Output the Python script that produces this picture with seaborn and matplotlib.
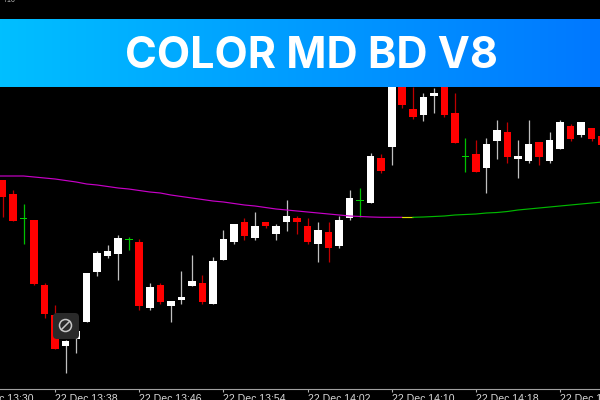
import numpy as np
import pandas as pd
import matplotlib
matplotlib.use('Agg')
import matplotlib.pyplot as plt
from matplotlib.patches import FancyBboxPatch, Circle
import seaborn as sns

body_top = [180, 194, 217.5, 220, 285, 315, 341, 331, 273, 253, 251, 238, 238.5, 242, 287, 285, 301, 297, 281,
            283, 261, 239, 224, 222, 226, 222, 226, 216, 218, 226, 230, 232, 220, 198, 199.5, 156, 158, 70, 70,
            109, 97, 93, 70, 113, 155.5, 154, 144, 130, 132, 156, 144, 142, 140, 122, 126, 122, 128, 136]
body_bot = [197, 221, 218.5, 283.5, 314, 349, 345.5, 339, 322, 272, 256, 254, 239.5, 306, 308, 302, 306, 299.5, 286,
            302, 304, 260, 242, 236, 238, 226, 234, 222, 222, 242, 244, 248, 246, 218, 200.5, 203, 171, 147, 105,
            117, 115, 96, 115, 143, 156.5, 172, 168, 141, 157, 159, 161, 157, 161, 149, 139, 135, 139, 145]
wick_top = [180, 190, 204, 220, 283, 305, 340, 331, 273, 251, 245, 235, 237, 239, 283, 283, 301, 271, 255,
            275, 257, 230, 224, 218, 212, 222, 224, 200, 216, 218, 222, 222, 216, 190, 188, 153, 154, 70, 70,
            87, 93, 88, 70, 93, 138, 140, 138, 120, 122, 140, 120, 142, 132, 120, 124, 122, 128, 136]
wick_bot = [217, 221, 244, 285, 318, 349, 373, 353, 322, 276, 258, 280, 250, 310, 310, 304, 322, 304, 286,
            304, 304, 260, 244, 240, 240, 228, 240, 231, 234, 244, 262, 262, 248, 220, 217, 203, 173, 165, 108,
            119, 121, 113, 117, 143, 172, 172, 193, 159, 163, 178, 163, 165, 163, 149, 141, 137, 141, 147]
kinds = list('rrgrrrwwwwwwgrwrwwwrwwwrwrwwrrwrwwgwrwrrwwrrgrwwrwwrwwrwrr')

# starts one candle before the first one, the line runs in from the left edge
ma_level = [176, 176, 176, 176, 177, 178, 179, 180.5, 182, 184, 185, 186.5, 188, 189, 190.5, 192, 193, 195, 196.5, 198,
            199.5, 201, 202, 203.5, 205, 206, 207.5, 209, 210, 211, 212, 213, 214, 215, 216, 216.5, 217, 217.3, 217.3, 217.3,
            217.3, 217, 216.5, 216, 215, 214.5, 214, 213, 212.5, 211.5, 210, 209, 208, 207, 206, 205, 204, 203, 202]

tick_pos = [-3, 5, 13, 21, 29, 37, 45, 53]
tick_labels = ['22 Dec 13:30', '22 Dec 13:38', '22 Dec 13:46', '22 Dec 13:54',
               '22 Dec 14:02', '22 Dec 14:10', '22 Dec 14:18', '22 Dec 14:26']
title = 'COLOR MD BD V8'

body_colors = {'r': '#ff0000', 'w': '#ffffff', 'g': '#00d000'}
wick_colors = {'r': '#c00000', 'w': '#c0c0c0', 'g': '#00c000'}

sns.set_style('dark', {'axes.facecolor': 'black', 'figure.facecolor': 'black'})
plt.rcParams['font.family'] = ['Liberation Sans', 'DejaVu Sans']

fig = plt.figure(figsize=(6, 4), dpi=100)
# axes hang over the left edge so the first date label gets cut like in the screenshot
ax = fig.add_axes([-40 / 600, 11 / 400, 640 / 600, 389 / 400])

n = np.arange(len(body_top))
ax.vlines(n, wick_top, wick_bot, colors=[wick_colors[k] for k in kinds], linewidth=0.9, zorder=2)
heights = np.array(body_bot) - np.array(body_top)
ax.bar(n, heights, bottom=body_top, width=0.72, color=[body_colors[k] for k in kinds], linewidth=0, zorder=3)

ma = pd.DataFrame({'candle': np.arange(-1, len(body_top)), 'level': ma_level})
sns.lineplot(data=ma[ma.candle <= 38], x='candle', y='level', color='#c800c8', linewidth=0.85, ax=ax, zorder=4, errorbar=None)
sns.lineplot(data=ma[(ma.candle >= 38) & (ma.candle <= 39)], x='candle', y='level', color='#e0e000', linewidth=0.85, ax=ax, zorder=4, errorbar=None)
sns.lineplot(data=ma[ma.candle >= 39], x='candle', y='level', color='#00b800', linewidth=0.85, ax=ax, zorder=4, errorbar=None)

ax.set_xlim(-42.5 / 10.52, 597.5 / 10.52)
ax.set_ylim(389, 0)
ax.set_xlabel('')
ax.set_ylabel('')
ax.set_yticks([])
ax.set_xticks(tick_pos)
ax.set_xticklabels(tick_labels, ha='left', fontsize=7.6, color='#d8d8d8')
ax.tick_params(axis='x', length=2, width=0.8, color='#b0b0b0', pad=1.5, bottom=True)
ax.grid(False)
for side in ['top', 'left', 'right']:
    ax.spines[side].set_visible(False)
ax.spines['bottom'].set_color('#a0a0a0')
ax.spines['bottom'].set_linewidth(0.8)

# overlay in screen pixels: banner and the little button
over = fig.add_axes([0, 0, 1, 1], facecolor='none')
over.axis('off')

grad = np.linspace(0, 1, 300)[None, :, None]
start = np.array([0, 191, 255]) / 255
end = np.array([0, 120, 255]) / 255
over.imshow(start + (end - start) * grad, extent=[0, 600, 87, 19], aspect='auto', zorder=5)
over.set_xlim(0, 600)
over.set_ylim(400, 0)
over.text(311.5, 56, title, color='white', fontsize=31, fontweight='bold', family='Inter',
          ha='center', va='center', zorder=6)

over.add_patch(FancyBboxPatch((56, 316), 20, 20, boxstyle='round,pad=3,rounding_size=4',
                              facecolor='#2a2a2a', edgecolor='none', zorder=7))
over.add_patch(Circle((65.5, 325.5), 6, facecolor='none', edgecolor='#c8c8c8', linewidth=1.1, zorder=8))
over.plot([61.3, 69.7], [329.7, 321.3], color='#c8c8c8', linewidth=1.1, zorder=8)
over.text(5, 0, '/16', color='#bbbbbb', fontsize=5, ha='left', va='center', zorder=8)

fig.savefig('out.png', dpi=100, facecolor='black')
